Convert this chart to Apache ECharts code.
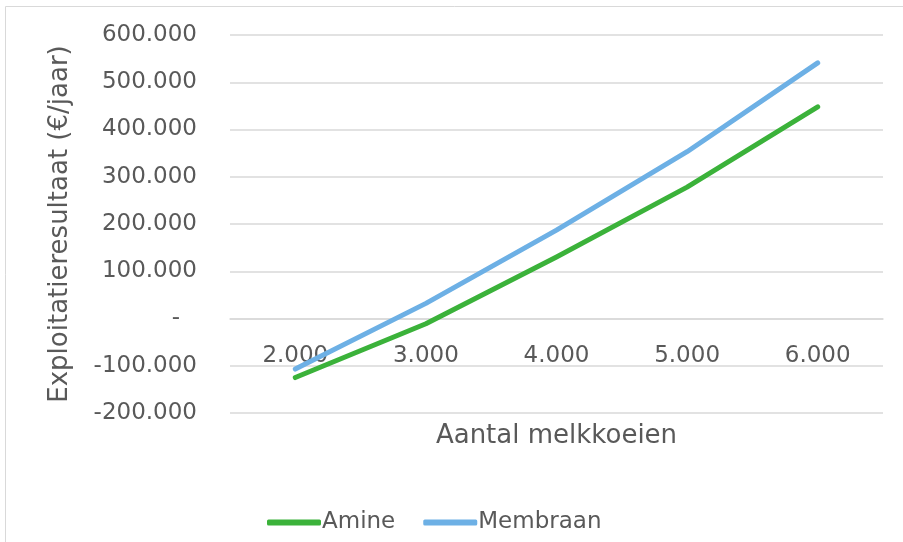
<!DOCTYPE html>
<html>
<head>
<meta charset="utf-8">
<script src="https://cdn.jsdelivr.net/npm/echarts@6/dist/echarts.min.js"></script>
<style>html,body{margin:0;padding:0;background:#fff}#c{width:903px;height:542px}</style>
</head>
<body>
<div id="c"></div>
<script>
var categories = ['2.000', '3.000', '4.000', '5.000', '6.000'];
var amine = [-125000, -11000, 130000, 278000, 448000];
var membraan = [-107000, 32000, 187000, 353000, 541000];
var yTicks = { min: -200000, max: 600000, interval: 100000 };

function fmt(v) {
  var s = Math.abs(v).toString().replace(/\B(?=(\d{3})+(?!\d))/g, '.');
  return (v < 0 ? '-' : '') + s;
}

var gridTop = 35, gridBottom = 129, H = 542;
var plotH = H - gridTop - gridBottom;
// shift the category axis up so it sits at value 0, like the reference
var zeroOffset = -plotH * (0 - yTicks.min) / (yTicks.max - yTicks.min);

var chart = echarts.init(document.getElementById('c'));
var txt = '#595959';
var ff = '"DejaVu Sans", Verdana, sans-serif';
chart.setOption({
  animation: false,
  textStyle: { fontFamily: ff },
  graphic: [{
    type: 'rect', shape: { x: 5.5, y: 6.5, width: 1000, height: 700 },
    style: { fill: 'none', stroke: '#D9D9D9', lineWidth: 1 }, silent: true, z: -10
  }],
  grid: { left: 230, right: 20, top: gridTop, bottom: gridBottom, containLabel: false, outerBoundsMode: 'none' },
  legend: {
    left: 262, top: 506,
    itemWidth: 54, itemHeight: 6, itemGap: 28, icon: 'roundRect',
    textStyle: { color: txt, fontSize: 23, fontFamily: ff, padding: [0, 0, 0, -4] },
    data: ['Amine', 'Membraan']
  },
  xAxis: {
    type: 'category', data: categories, boundaryGap: true, position: 'bottom',
    offset: zeroOffset, z: 0,
    axisLine: { show: true, onZero: false, lineStyle: { color: '#D9D9D9', width: 1.5 } },
    axisTick: { show: false },
    axisLabel: { color: txt, fontSize: 23, fontFamily: ff, margin: 26 },
    name: 'Aantal melkkoeien', nameLocation: 'middle', nameGap: 105,
    nameTextStyle: { color: txt, fontSize: 26, fontFamily: ff }
  },
  yAxis: {
    type: 'value', min: yTicks.min, max: yTicks.max, interval: yTicks.interval,
    axisLine: { show: false }, axisTick: { show: false },
    splitLine: { lineStyle: { color: '#D9D9D9', width: 1.5 } },
    axisLabel: {
      color: txt, fontSize: 23, fontFamily: ff, margin: 33,
      formatter: function (v) { return v === 0 ? '{z|-}' : fmt(v); },
      rich: { z: { color: txt, fontSize: 23, fontFamily: ff, padding: [0, 17, 0, 0] } }
    },
    name: 'Exploitatieresultaat (€/jaar)', nameLocation: 'middle', nameGap: 157,
    nameTextStyle: { color: txt, fontSize: 26, fontFamily: ff }
  },
  series: [
    { name: 'Amine', type: 'line', data: amine, showSymbol: false, symbol: 'none', z: 5,
      lineStyle: { color: '#3BB23A', width: 5, cap: 'round', join: 'round' }, itemStyle: { color: '#3BB23A' } },
    { name: 'Membraan', type: 'line', data: membraan, showSymbol: false, symbol: 'none', z: 5,
      lineStyle: { color: '#6DB0E5', width: 5, cap: 'round', join: 'round' }, itemStyle: { color: '#6DB0E5' } }
  ]
});
</script>
</body>
</html>
